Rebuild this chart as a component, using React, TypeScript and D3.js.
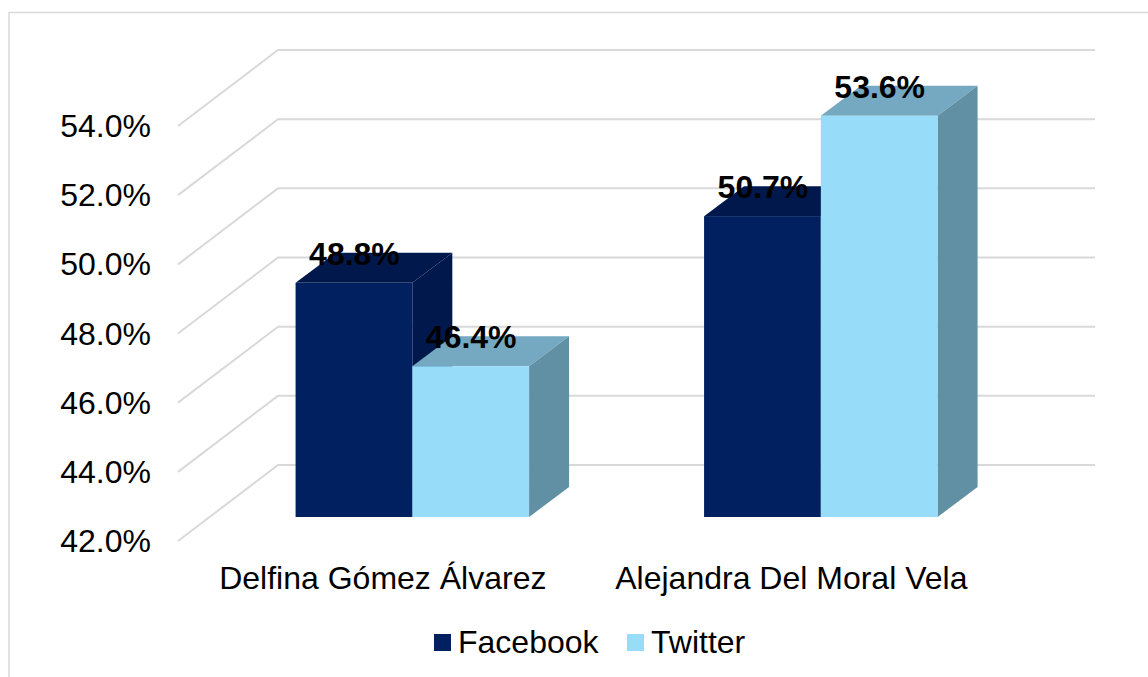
import React from "react";
import * as d3 from "d3";

const categories = ["Delfina Gómez Álvarez", "Alejandra Del Moral Vela"];
const seriesNames = ["Facebook", "Twitter"];
const facebookValues = [48.77, 50.7];
const twitterValues = [46.36, 53.6];
const yTicks = [42, 44, 46, 48, 50, 52, 54];
const frontColors = ["#002060", "#97dcf9"];
const topColors = ["#00184c", "#74a9c1"];
const sideColors = ["#00184c", "#6190a5"];

const W = 1148, H = 677;
const FONT = "'Liberation Sans', Arial, sans-serif";
const wallDx = 100, wallDy = 76;
const barDx = 40, barDy = 30;
const floorFrac = 24 / 76;

export default function App() {
  const yFront = d3.scaleLinear().domain([42, 54]).range([541, 126]);
  const x0 = d3.scaleBand<string>().domain(categories).range([178, 995]);
  const x1 = d3.scaleBand<string>().domain(seriesNames).range([0, 233.5]);
  const lift = floorFrac * wallDy;
  const shift = floorFrac * wallDx;
  const pct = (v: number) => `${v.toFixed(1)}%`;
  const series = [facebookValues, twitterValues];

  const bars = categories.flatMap((c, ci) =>
    seriesNames.map((s, si) => {
      const v = series[si][ci];
      const xl = x0(c)! + x0.bandwidth() / 2 - 118.25 + shift + x1(s)!;
      const w = x1.bandwidth();
      const top = yFront(v) - lift;
      const bottom = yFront(42) - lift;
      return { key: c + s, v, si, xl, w, top, bottom };
    })
  );
  // series drawn back-to-front, so the right-hand bar overlaps its neighbour's side
  return (
    <svg width={W} height={H} viewBox={`0 0 ${W} ${H}`}
      style={{ position: "absolute", left: 0, top: 0, background: "#fff" }} fontFamily={FONT}>
      <path d={`M9,${H}V12.5H${W}`} fill="none" stroke="#d9d9d9" strokeWidth={1.5} />
      {yTicks.map((t) => {
        const y = yFront(t);
        return (
          <g key={t}>
            <path d={`M178,${y}L${178 + wallDx},${y - wallDy}H1095`} fill="none" stroke="#d9d9d9" strokeWidth={2} />
            <text x={151} y={y + 11} textAnchor="end" fontSize={32} fill="#000">{`${t.toFixed(1)}%`}</text>
          </g>
        );
      })}
      {bars.map((b) => (
        <g key={b.key}>
          <polygon points={`${b.xl},${b.top} ${b.xl + barDx},${b.top - barDy} ${b.xl + b.w + barDx},${b.top - barDy} ${b.xl + b.w},${b.top}`} fill={topColors[b.si]} />
          <polygon points={`${b.xl + b.w},${b.top} ${b.xl + b.w + barDx},${b.top - barDy} ${b.xl + b.w + barDx},${b.bottom - barDy} ${b.xl + b.w},${b.bottom}`} fill={sideColors[b.si]} />
          <rect x={b.xl} y={b.top} width={b.w} height={b.bottom - b.top} fill={frontColors[b.si]} />
        </g>
      ))}
      {bars.map((b) => (
        <text key={b.key} x={b.xl + b.w / 2 + 0.5} y={b.top - 18} textAnchor="middle" fontSize={32} fontWeight="bold" fill="#000">{pct(b.v)}</text>
      ))}
      {categories.map((c) => (
        <text key={c} x={x0(c)! + x0.bandwidth() / 2 + shift - 31} y={589} textAnchor="middle" fontSize={32} fill="#000">{c}</text>
      ))}
      <rect x={434} y={634} width={17} height={17} fill={frontColors[0]} />
      <text x={458} y={653} fontSize={32} fill="#000">{seriesNames[0]}</text>
      <rect x={627} y={634} width={17} height={17} fill={frontColors[1]} />
      <text x={651} y={653} fontSize={32} fill="#000">{seriesNames[1]}</text>
    </svg>
  );
}
